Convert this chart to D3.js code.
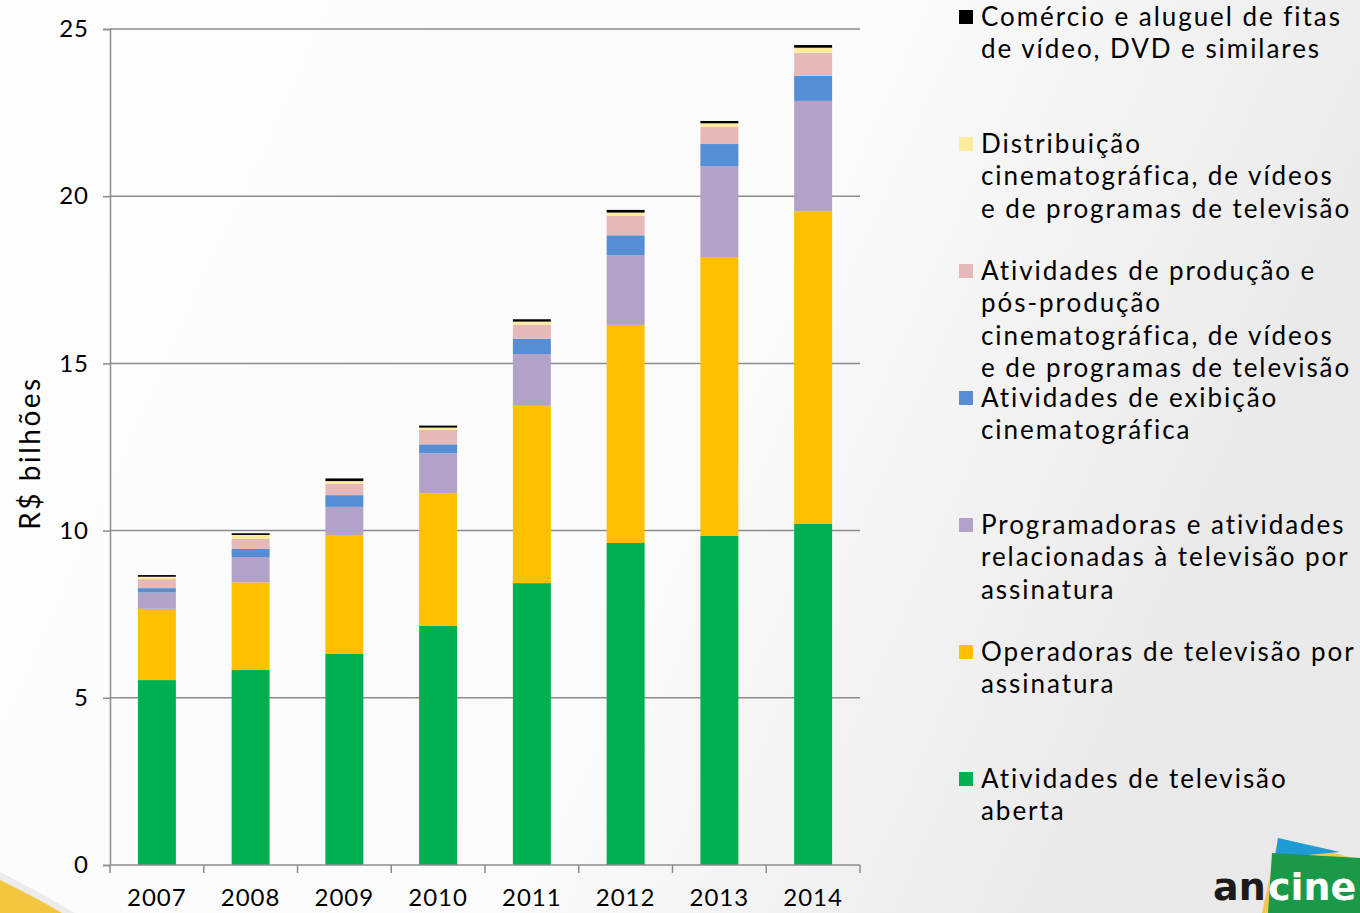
<!DOCTYPE html>
<html><head><meta charset="utf-8">
<script src="https://cdn.jsdelivr.net/npm/d3@7"></script>
<style>html,body{margin:0;padding:0;overflow:hidden;}svg{display:block;}</style>
</head><body>
<script>
const years = ["2007","2008","2009","2010","2011","2012","2013","2014"];
const seriesNames = [
  "Atividades de televisão aberta",
  "Operadoras de televisão por assinatura",
  "Programadoras e atividades relacionadas à televisão por assinatura",
  "Atividades de exibição cinematográfica",
  "Atividades de produção e pós-produção cinematográfica, de vídeos e de programas de televisão",
  "Distribuição cinematográfica, de vídeos e de programas de televisão",
  "Comércio e aluguel de fitas de vídeo, DVD e similares"
];
const tvAberta      = [5.53, 5.83, 6.31, 7.15, 8.43, 9.63, 9.84, 10.20];
const operadoras    = [2.13, 2.62, 3.56, 3.97, 5.30, 6.52, 8.34, 9.35];
const programadoras = [0.49, 0.76, 0.84, 1.19, 1.55, 2.09, 2.72, 3.30];
const exibicao      = [0.13, 0.24, 0.35, 0.27, 0.46, 0.59, 0.66, 0.75];
const producao      = [0.27, 0.30, 0.34, 0.43, 0.42, 0.59, 0.51, 0.69];
const distribuicao  = [0.07, 0.12, 0.08, 0.07, 0.09, 0.09, 0.11, 0.15];
const comercio      = [0.05, 0.05, 0.08, 0.06, 0.07, 0.08, 0.07, 0.08];
const yTicks = [0, 5, 10, 15, 20, 25];
const yTitle = "R$ bilhões";
const legendLines = [
  ["Comércio e aluguel de fitas", "de vídeo, DVD e similares"],
  ["Distribuição", "cinematográfica, de vídeos", "e de programas de televisão"],
  ["Atividades de produção e", "pós-produção", "cinematográfica, de vídeos", "e de programas de televisão"],
  ["Atividades de exibição", "cinematográfica"],
  ["Programadoras e atividades", "relacionadas à televisão por", "assinatura"],
  ["Operadoras de televisão por", "assinatura"],
  ["Atividades de televisão", "aberta"]
];
const colors = ["#00B050","#FFC000","#B3A2C7","#558ED5","#E6B9B8","#FFEB9C","#000000"];

const W = 1360, H = 913;
const font = "Lato, 'Noto Sans', sans-serif";
const svg = d3.select("body").append("svg").attr("width", W).attr("height", H);

// background
const defs = svg.append("defs");
const grad = defs.append("linearGradient").attr("id","bg").attr("x1","0").attr("y1","0").attr("x2","1").attr("y2","0.3");
grad.append("stop").attr("offset","0").attr("stop-color","#fdfdfd");
grad.append("stop").attr("offset","0.6").attr("stop-color","#fbfbfb");
grad.append("stop").attr("offset","1").attr("stop-color","#e9e9e9");
svg.append("rect").attr("width",W).attr("height",H).attr("fill","url(#bg)");
// bottom-left swoosh
svg.append("path").attr("d","M0,872 Q40,892 75,913 L0,913 Z").attr("fill","#ececec");
svg.append("path").attr("d","M0,880 Q35,897 62,913 L0,913 Z").attr("fill","#F3C63F");

const x = d3.scaleBand().domain(years).range([110, 860]).paddingInner(0.595).paddingOuter(0.2975);
const y = d3.scaleLinear().domain([0, 25]).range([865, 29]);

// grid
svg.append("g").selectAll("line").data(yTicks.filter(d=>d>0)).join("line")
  .attr("x1",110).attr("x2",860).attr("y1",d=>y(d)).attr("y2",d=>y(d))
  .attr("stroke","#8c8c8c").attr("stroke-width",1.5);

// stacked bars
const data = years.map((yr,i)=>({year:yr, s0:tvAberta[i], s1:operadoras[i], s2:programadoras[i], s3:exibicao[i], s4:producao[i], s5:distribuicao[i], s6:comercio[i]}));
const stack = d3.stack().keys(["s0","s1","s2","s3","s4","s5","s6"]);
const layers = stack(data);
svg.append("g").selectAll("g").data(layers).join("g").attr("fill",(d,i)=>colors[i])
  .selectAll("rect").data(d=>d).join("rect")
  .attr("x",d=>x(d.data.year)).attr("width",x.bandwidth())
  .attr("y",d=>y(d[1])).attr("height",d=>y(d[0])-y(d[1]));

// y axis
const yAxis = svg.append("g").attr("transform","translate(110,0)")
  .call(d3.axisLeft(y).tickValues(yTicks).tickSize(7).tickPadding(14));
yAxis.select(".domain").attr("stroke","#8c8c8c").attr("stroke-width",1.5);
yAxis.selectAll(".tick line").attr("stroke","#8c8c8c").attr("stroke-width",1.5);
yAxis.selectAll("text").attr("font-family",font).attr("font-size",24).attr("letter-spacing","1px").attr("fill","#000");

// x axis
const xAxis = svg.append("g").attr("transform","translate(0,865)")
  .call(d3.axisBottom(x).tickSize(0).tickPadding(24));
xAxis.select(".domain").attr("stroke","#8c8c8c").attr("stroke-width",1.5).attr("d","M110,0H860");
xAxis.selectAll("text").attr("font-family",font).attr("font-size",24).attr("letter-spacing","1px").attr("fill","#000");
const bounds = years.map(yr=>x(yr)-x.step()*x.paddingInner()/2).concat([860]);
svg.append("g").selectAll("line").data(bounds).join("line")
  .attr("x1",d=>d).attr("x2",d=>d).attr("y1",865).attr("y2",873)
  .attr("stroke","#8c8c8c").attr("stroke-width",1.5);

// y title
svg.append("text").attr("transform","translate(40,453) rotate(-90)")
  .attr("text-anchor","middle").attr("font-family",font).attr("font-size",28).attr("letter-spacing","2.5px").attr("fill","#000").text(yTitle);

// legend
const legendTops = [17, 144, 271, 398, 525, 652, 779];
const legendColors = colors.slice().reverse();
const lg = svg.append("g");
legendLines.forEach((lines,i)=>{
  const cy = legendTops[i];
  lg.append("rect").attr("x",959).attr("y",cy-7).attr("width",14).attr("height",14).attr("fill",legendColors[i]);
  lines.forEach((t,j)=>{
    lg.append("text").attr("x",981).attr("y",cy + j*32.3).attr("dy","0.35em")
      .attr("font-family",font).attr("font-size",26).attr("letter-spacing","1.95px").attr("fill","#000").text(t);
  });
});

// logo
const logo = svg.append("g");
logo.append("path").attr("d","M1278,838 L1360,860 L1360,913 L1262,913 Z").attr("fill","#F2C94C");
logo.append("path").attr("d","M1278,838 L1340,852 L1275,858 Z").attr("fill","#1E9BD7");
logo.append("path").attr("d","M1272,853 L1360,858 L1360,913 L1268,913 Z").attr("fill","#1A9A48");
logo.append("text").attr("x",1213).attr("y",900).attr("font-family","'DejaVu Sans', sans-serif").attr("font-weight","bold").attr("font-size",38).attr("fill","#1b1b1b").text("an");
logo.append("text").attr("x",1268).attr("y",900).attr("font-family","'DejaVu Sans', sans-serif").attr("font-weight","bold").attr("font-size",38).attr("fill","#fff").text("cine");
</script>
</body></html>
